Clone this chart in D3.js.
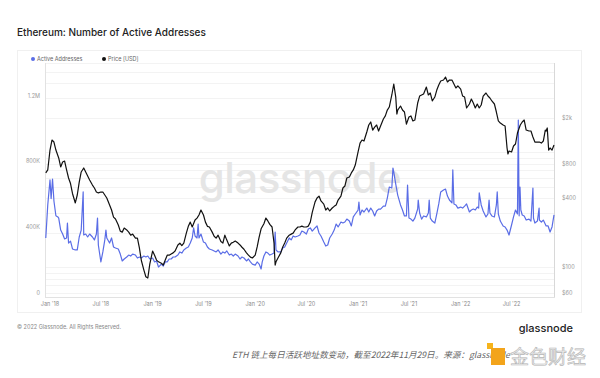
<!doctype html>
<html>
<head>
<meta charset="UTF-8">
<script src="https://d3js.org/d3.v7.min.js"></script>
<style>
  body { margin: 0; background: #fff; }
  svg { display: block; font-family: Inter, "Noto Sans", sans-serif; }
</style>
</head>
<body>
<div id="chart"></div>
<script>
// active addresses, in thousands
var activeAddresses = [
  ["2017-12-17",335],["2017-12-24",536],
  ["2018-01-01",688],["2018-01-05",575],["2018-01-10",694],["2018-01-15",560],["2018-01-22",470],["2018-01-29",463],
  ["2018-02-01",456],["2018-02-08",383],["2018-02-15",359],["2018-02-22",329],
  ["2018-03-01",335],["2018-03-04",426],["2018-03-08",304],["2018-03-15",316],["2018-03-22",268],
  ["2018-04-01",262],["2018-04-08",262],["2018-04-15",341],["2018-04-22",383],["2018-04-29",615],
  ["2018-05-01",353],["2018-05-08",359],["2018-05-15",341],["2018-05-22",359],
  ["2018-06-01",341],["2018-06-08",323],["2018-06-15",359],["2018-06-19",456],["2018-06-22",292],
  ["2018-07-01",189],["2018-07-08",250],["2018-07-15",323],["2018-07-19",383],["2018-07-22",335],
  ["2018-08-01",304],["2018-08-08",335],["2018-08-15",280],["2018-08-22",274],
  ["2018-09-01",268],["2018-09-08",237],["2018-09-15",195],["2018-09-22",207],
  ["2018-10-01",219],["2018-10-08",231],["2018-10-15",225],["2018-10-22",237],
  ["2018-11-01",231],["2018-11-08",213],["2018-11-15",219],["2018-11-22",213],
  ["2018-12-01",225],["2018-12-08",219],["2018-12-15",225],["2018-12-22",207],
  ["2019-01-01",213],["2019-01-08",189],["2019-01-15",195],["2019-01-22",158],
  ["2019-02-01",176],["2019-02-08",164],["2019-02-15",189],["2019-02-22",189],
  ["2019-03-01",207],["2019-03-08",207],["2019-03-15",219],["2019-03-22",219],
  ["2019-04-01",231],["2019-04-08",250],["2019-04-15",243],["2019-04-22",262],
  ["2019-05-01",274],["2019-05-08",280],["2019-05-15",304],["2019-05-22",335],["2019-05-27",396],
  ["2019-06-01",347],["2019-06-08",335],["2019-06-12",420],["2019-06-15",335],["2019-06-22",359],
  ["2019-07-01",310],["2019-07-08",304],["2019-07-15",280],["2019-07-22",268],
  ["2019-08-01",262],["2019-08-08",256],["2019-08-15",250],["2019-08-22",262],
  ["2019-09-01",237],["2019-09-08",250],["2019-09-15",243],["2019-09-22",256],
  ["2019-10-01",231],["2019-10-08",237],["2019-10-15",225],["2019-10-22",237],
  ["2019-11-01",225],["2019-11-08",207],["2019-11-15",219],["2019-11-22",213],
  ["2019-12-01",195],["2019-12-08",207],["2019-12-15",189],["2019-12-22",176],
  ["2020-01-01",170],["2020-01-08",189],["2020-01-15",176],["2020-01-22",146],["2020-01-26",189],
  ["2020-02-01",225],["2020-02-08",250],["2020-02-15",243],["2020-02-22",231],
  ["2020-03-01",237],["2020-03-08",243],["2020-03-12",371],["2020-03-15",262],["2020-03-22",250],
  ["2020-04-01",250],["2020-04-08",274],["2020-04-15",280],["2020-04-22",304],
  ["2020-05-01",335],["2020-05-08",323],["2020-05-15",347],["2020-05-22",341],
  ["2020-06-01",347],["2020-06-08",353],["2020-06-15",377],["2020-06-22",371],
  ["2020-07-01",359],["2020-07-08",389],["2020-07-15",396],["2020-07-22",377],
  ["2020-08-01",396],["2020-08-08",408],["2020-08-15",365],["2020-08-22",347],
  ["2020-09-01",310],["2020-09-08",286],["2020-09-15",292],["2020-09-22",335],
  ["2020-10-01",359],["2020-10-08",383],["2020-10-15",420],["2020-10-22",402],
  ["2020-11-01",432],["2020-11-08",426],["2020-11-15",432],["2020-11-22",450],
  ["2020-12-01",438],["2020-12-08",408],["2020-12-15",463],["2020-12-22",481],
  ["2021-01-01",505],["2021-01-04",554],["2021-01-08",475],["2021-01-15",505],["2021-01-22",493],
  ["2021-02-01",517],["2021-02-08",493],["2021-02-15",517],["2021-02-22",499],
  ["2021-03-01",469],["2021-03-08",499],["2021-03-15",511],["2021-03-22",511],
  ["2021-04-01",529],["2021-04-08",529],["2021-04-15",578],["2021-04-22",645],
  ["2021-05-01",639],["2021-05-05",761],["2021-05-08",736],["2021-05-15",663],["2021-05-22",596],
  ["2021-06-01",536],["2021-06-08",505],["2021-06-15",469],["2021-06-22",469],["2021-06-26",657],
  ["2021-07-01",456],["2021-07-08",450],["2021-07-15",438],["2021-07-22",456],
  ["2021-08-01",511],["2021-08-03",566],["2021-08-08",487],["2021-08-15",450],["2021-08-22",469],
  ["2021-09-01",463],["2021-09-08",487],["2021-09-11",566],["2021-09-15",456],["2021-09-22",438],
  ["2021-10-01",426],["2021-10-08",481],["2021-10-15",542],["2021-10-22",615],
  ["2021-11-01",627],["2021-11-08",633],["2021-11-15",590],["2021-11-22",566],
  ["2021-12-01",548],["2021-12-04",749],["2021-12-08",542],["2021-12-15",536],["2021-12-22",517],
  ["2022-01-01",523],["2022-01-08",517],["2022-01-15",529],["2022-01-22",542],
  ["2022-02-01",493],["2022-02-08",505],["2022-02-15",511],["2022-02-22",505],
  ["2022-03-01",523],["2022-03-06",517],["2022-03-08",609],["2022-03-15",536],["2022-03-22",499],
  ["2022-04-01",463],["2022-04-08",481],["2022-04-12",566],["2022-04-15",487],["2022-04-22",469],
  ["2022-05-01",463],["2022-05-08",536],["2022-05-11",615],["2022-05-15",481],["2022-05-22",438],
  ["2022-06-01",408],["2022-06-08",402],["2022-06-15",383],["2022-06-22",353],
  ["2022-07-01",414],["2022-07-08",463],["2022-07-15",505],["2022-07-22",481],["2022-07-25",1053],["2022-07-28",470],["2022-07-31",645],
  ["2022-08-03",505],["2022-08-08",475],["2022-08-15",469],["2022-08-22",444],
  ["2022-09-01",450],["2022-09-08",438],["2022-09-15",639],["2022-09-17",456],["2022-09-22",426],
  ["2022-10-01",438],["2022-10-07",517],["2022-10-08",444],["2022-10-15",432],["2022-10-22",444],
  ["2022-11-01",408],["2022-11-08",408],["2022-11-15",371],["2022-11-22",402],["2022-11-29",475]
];

// ETH price, USD
var price = [
  ["2017-12-17",664],["2017-12-24",705],
  ["2018-01-01",1050],["2018-01-08",1283],["2018-01-15",1233],["2018-01-22",1050],
  ["2018-02-01",896],["2018-02-08",748],["2018-02-15",826],["2018-02-22",843],
  ["2018-03-01",705],["2018-03-08",600],["2018-03-15",537],["2018-03-22",440],
  ["2018-04-01",364],["2018-04-08",427],["2018-04-15",553],["2018-04-22",677],
  ["2018-05-01",733],["2018-05-08",677],["2018-05-15",625],["2018-05-22",577],
  ["2018-06-01",521],["2018-06-08",491],["2018-06-15",453],["2018-06-22",445],
  ["2018-07-01",453],["2018-07-08",453],["2018-07-15",427],["2018-07-22",402],
  ["2018-08-01",349],["2018-08-08",316],["2018-08-15",274],["2018-08-22",264],
  ["2018-09-01",234],["2018-09-08",207],["2018-09-15",203],["2018-09-22",220],
  ["2018-10-01",212],["2018-10-08",203],["2018-10-15",191],["2018-10-22",195],
  ["2018-11-01",180],["2018-11-08",180],["2018-11-15",148],["2018-11-22",115],
  ["2018-12-01",95],["2018-12-08",83],["2018-12-15",81],["2018-12-22",107],
  ["2019-01-01",139],["2019-01-08",128],["2019-01-15",116],["2019-01-22",112],
  ["2019-02-01",109],["2019-02-08",105],["2019-02-15",116],["2019-02-22",128],
  ["2019-03-01",128],["2019-03-08",131],["2019-03-15",134],["2019-03-22",139],
  ["2019-04-01",157],["2019-04-08",163],["2019-04-15",155],["2019-04-22",163],
  ["2019-05-01",199],["2019-05-08",228],["2019-05-15",248],["2019-05-22",225],
  ["2019-06-01",259],["2019-06-08",269],["2019-06-15",286],["2019-06-22",316],
  ["2019-07-01",286],["2019-07-08",248],["2019-07-15",228],["2019-07-22",225],
  ["2019-08-01",203],["2019-08-08",187],["2019-08-15",180],["2019-08-22",191],
  ["2019-09-01",168],["2019-09-08",163],["2019-09-15",191],["2019-09-22",173],
  ["2019-10-01",154],["2019-10-08",163],["2019-10-15",166],["2019-10-22",170],
  ["2019-11-01",163],["2019-11-08",157],["2019-11-15",150],["2019-11-22",144],
  ["2019-12-01",134],["2019-12-08",128],["2019-12-15",123],["2019-12-22",121],
  ["2020-01-01",128],["2020-01-08",151],["2020-01-15",184],["2020-01-22",217],
  ["2020-02-01",240],["2020-02-08",269],["2020-02-15",254],["2020-02-22",237],
  ["2020-03-01",225],["2020-03-08",163],["2020-03-12",105],["2020-03-15",112],["2020-03-22",121],
  ["2020-04-01",134],["2020-04-08",151],["2020-04-15",163],["2020-04-22",180],
  ["2020-05-01",191],["2020-05-08",195],["2020-05-15",199],["2020-05-22",212],
  ["2020-06-01",225],["2020-06-08",225],["2020-06-15",229],["2020-06-22",225],
  ["2020-07-01",225],["2020-07-08",229],["2020-07-15",248],["2020-07-22",301],
  ["2020-08-01",372],["2020-08-08",402],["2020-08-15",418],["2020-08-22",379],
  ["2020-09-01",356],["2020-09-08",316],["2020-09-15",329],["2020-09-22",310],
  ["2020-10-01",329],["2020-10-08",340],["2020-10-15",349],["2020-10-22",386],
  ["2020-11-01",418],["2020-11-08",491],["2020-11-15",511],["2020-11-22",600],
  ["2020-12-01",612],["2020-12-08",664],["2020-12-15",705],["2020-12-22",778],
  ["2021-01-01",1010],["2021-01-08",1208],["2021-01-15",1283],["2021-01-22",1258],
  ["2021-02-01",1507],["2021-02-08",1733],["2021-02-15",1841],["2021-02-22",1567],
  ["2021-03-01",1664],["2021-03-08",1733],["2021-03-15",1537],["2021-03-22",1700],
  ["2021-04-01",1955],["2021-04-08",2080],["2021-04-15",2339],["2021-04-22",2485],
  ["2021-05-01",3162],["2021-05-08",3940],["2021-05-15",3035],["2021-05-19",2160],["2021-05-22",2339],
  ["2021-06-01",2536],["2021-06-08",2339],["2021-06-15",2249],["2021-06-22",1767],
  ["2021-07-01",2032],["2021-07-08",2080],["2021-07-15",1880],["2021-07-22",1915],
  ["2021-08-01",2692],["2021-08-08",3096],["2021-08-15",3162],["2021-08-22",3225],
  ["2021-09-01",3707],["2021-09-08",3162],["2021-09-15",3289],["2021-09-22",2805],
  ["2021-10-01",3035],["2021-10-08",3491],["2021-10-15",3862],["2021-10-22",4180],
  ["2021-11-01",4266],["2021-11-08",4529],["2021-11-15",4102],["2021-11-22",4266],
  ["2021-12-01",4266],["2021-12-08",3940],["2021-12-15",3640],["2021-12-22",3790],
  ["2022-01-01",3560],["2022-01-08",3096],["2022-01-15",3035],["2022-01-22",2437],
  ["2022-02-01",2640],["2022-02-08",2918],["2022-02-15",2692],["2022-02-22",2437],
  ["2022-03-01",2640],["2022-03-08",2437],["2022-03-15",2588],["2022-03-22",3096],
  ["2022-04-01",3289],["2022-04-08",3096],["2022-04-15",2978],["2022-04-22",2805],
  ["2022-05-01",2640],["2022-05-08",2249],["2022-05-15",1880],["2022-05-22",1803],
  ["2022-06-01",1733],["2022-06-08",1700],["2022-06-15",1094],["2022-06-18",970],["2022-06-22",1030],
  ["2022-07-01",1010],["2022-07-08",1139],["2022-07-15",1185],["2022-07-22",1476],
  ["2022-08-01",1733],["2022-08-08",1841],["2022-08-15",1915],["2022-08-22",1567],
  ["2022-09-01",1537],["2022-09-08",1537],["2022-09-15",1364],["2022-09-22",1233],
  ["2022-10-01",1233],["2022-10-08",1233],["2022-10-15",1208],["2022-10-22",1258],["2022-10-29",1567],
  ["2022-11-01",1537],["2022-11-05",1633],["2022-11-10",1050],["2022-11-15",1094],["2022-11-22",1050],["2022-11-29",1161]
];

var leftTicks = [0, 400, 800, 1200];
var rightTicks = [60, 100, 400, 800, 2000];
var xTickDates = ["2018-01-01","2018-07-01","2019-01-01","2019-07-01","2020-01-01","2020-07-01","2021-01-01","2021-07-01","2022-01-01","2022-07-01"];

var W = 600, H = 378;
var parse = d3.timeParse("%Y-%m-%d");
var blue = "#5a6de6";

var svg = d3.select("#chart").append("svg")
  .attr("width", W).attr("height", H);

// title
svg.append("text")
  .attr("x", 17).attr("y", 36)
  .attr("font-size", 10).attr("font-weight", 500).attr("fill", "#222")
  .text("Ethereum: Number of Active Addresses");

// card
svg.append("rect")
  .attr("x", 17.5).attr("y", 50.5).attr("width", 564).attr("height", 262)
  .attr("fill", "#fff").attr("stroke", "#f0f0f0");

// scales
var x = d3.scaleTime()
  .domain([parse("2017-12-16"), parse("2022-11-29")])
  .range([45.5, 554]);
var yL = d3.scaleLinear().domain([0, 1400]).range([293, 63]);
var yR = d3.scaleLog().domain([60, 6000]).range([293, 63]);

// faint grid
svg.append("g").selectAll("line")
  .data(yR.ticks())
  .enter().append("line")
  .attr("x1", 45).attr("x2", 554)
  .attr("y1", d => Math.round(yR(d)) + 0.5).attr("y2", d => Math.round(yR(d)) + 0.5)
  .attr("stroke", "#f3f3f3");

// watermark
svg.append("text")
  .attr("x", 300).attr("y", 193).attr("text-anchor", "middle")
  .attr("font-size", 42).attr("font-weight", 500).attr("fill", "#e5e5e5")
  .attr("letter-spacing", -0.5)
  .text("glassnode");

// frame
svg.append("line").attr("x1", 45.5).attr("x2", 45.5).attr("y1", 63).attr("y2", 297).attr("stroke", "#e2e2e2");
svg.append("line").attr("x1", 554.5).attr("x2", 554.5).attr("y1", 63).attr("y2", 297).attr("stroke", "#d8d8d8");
svg.append("line").attr("x1", 45).attr("x2", 555).attr("y1", 297.5).attr("y2", 297.5).attr("stroke", "#e2e2e2");

// left labels
svg.append("g").selectAll("text")
  .data(leftTicks).enter().append("text")
  .attr("x", 40).attr("y", d => yL(d)).attr("dy", "0.35em")
  .attr("text-anchor", "end").attr("font-size", 5.5).attr("fill", "#999")
  .text(d => d >= 1000 ? d3.format(".1f")(d / 1000) + "M" : d === 0 ? "0" : d + "K");

// right labels
svg.append("g").selectAll("text")
  .data(rightTicks).enter().append("text")
  .attr("x", 562).attr("y", d => yR(d)).attr("dy", "0.35em")
  .attr("font-size", 5.5).attr("fill", "#999")
  .text(d => d >= 1000 ? "$" + d / 1000 + "k" : "$" + d);

// x labels
var fmtX = d3.timeFormat("%b '%y");
svg.append("g").selectAll("text")
  .data(xTickDates.map(parse)).enter().append("text")
  .attr("x", d => x(d)).attr("y", 306)
  .attr("text-anchor", "middle").attr("font-size", 5.5).attr("fill", "#888")
  .text(d => fmtX(d));

// lines
var lineL = d3.line().x(d => x(parse(d[0]))).y(d => yL(d[1]));
var lineR = d3.line().x(d => x(parse(d[0]))).y(d => yR(d[1]));

svg.append("path").datum(activeAddresses)
  .attr("d", lineL).attr("fill", "none")
  .attr("stroke", blue).attr("stroke-width", 1.2).attr("stroke-linejoin", "round");
svg.append("path").datum(price)
  .attr("d", lineR).attr("fill", "none")
  .attr("stroke", "#111").attr("stroke-width", 1.2).attr("stroke-linejoin", "round");

// legend
var legend = [["Active Addresses", blue, 33], ["Price [USD]", "#111", 104]];
legend.forEach(function (l) {
  svg.append("circle").attr("cx", l[2]).attr("cy", 59).attr("r", 2).attr("fill", l[1]);
  svg.append("text").attr("x", l[2] + 4).attr("y", 61)
    .attr("font-size", 5.5).attr("fill", "#666").text(l[0]);
});

// footer
svg.append("text")
  .attr("x", 17).attr("y", 329)
  .attr("font-size", 5.5).attr("fill", "#888")
  .text("© 2022 Glassnode. All Rights Reserved.");
svg.append("text")
  .attr("x", 573).attr("y", 332).attr("text-anchor", "end")
  .attr("font-size", 11).attr("font-weight", 500).attr("fill", "#222")
  .text("glassnode");

// caption
svg.append("text")
  .attr("x", 232).attr("y", 358)
  .attr("font-family", "'Noto Sans CJK SC', sans-serif")
  .attr("font-size", 8.6).attr("font-style", "italic").attr("fill", "#666")
  .text("ETH 链上每日活跃地址数变动，截至2022年11月29日。来源：glassnode");

// jinse badge
svg.append("rect").attr("x", 487).attr("y", 343).attr("width", 6).attr("height", 6).attr("fill", "#f6b41c");
svg.append("rect").attr("x", 491).attr("y", 348).attr("width", 14).attr("height", 17).attr("fill", "#f3a41b");
svg.append("text")
  .attr("x", 510).attr("y", 364)
  .attr("font-family", "'Noto Sans CJK SC', sans-serif")
  .attr("font-size", 19).attr("fill", "#eeeeee").attr("stroke", "#b5b5b5").attr("stroke-width", 0.6)
  .text("金色财经");
</script>
</body>
</html>
